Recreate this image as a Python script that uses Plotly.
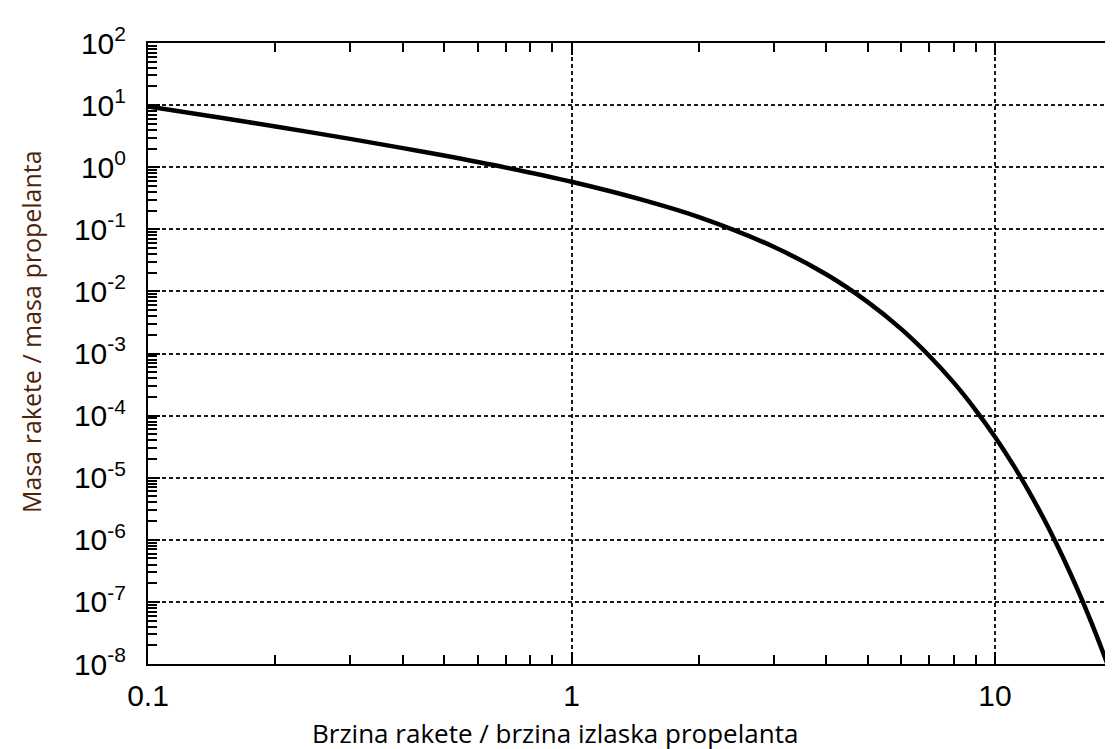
import plotly.graph_objects as go

# speed ratio (rocket speed / exhaust speed) and mass ratio
speed_ratio = [0.1, 0.15, 0.2, 0.3, 0.4, 0.5, 0.7, 1.0, 1.5, 2.0, 3.0, 4.0, 5.0, 6.0,
               7.0, 8.0, 9.0, 10.0, 11.0, 12.0, 13.0, 14.0, 15.0, 16.0, 17.0, 18.0, 18.5]
mass_ratio = [9.51, 6.18, 4.52, 2.86, 2.03, 1.54, 0.986, 0.582, 0.287, 0.157, 0.0524,
              0.0187, 0.00678, 0.00249, 9.13e-4, 3.36e-4, 1.23e-4, 4.54e-5, 1.67e-5,
              6.14e-6, 2.26e-6, 8.3e-7, 3.06e-7, 1.13e-7, 4.14e-8, 1.52e-8, 9.2e-9]

y_tickvals = [1e2, 1e1, 1e0, 1e-1, 1e-2, 1e-3, 1e-4, 1e-5, 1e-6, 1e-7, 1e-8]
y_ticktext = ["10<sup>2</sup>", "10<sup>1</sup>", "10<sup>0</sup>", "10<sup>-1</sup>",
              "10<sup>-2</sup>", "10<sup>-3</sup>", "10<sup>-4</sup>", "10<sup>-5</sup>",
              "10<sup>-6</sup>", "10<sup>-7</sup>", "10<sup>-8</sup>"]
x_tickvals = [0.1, 1, 10]
x_ticktext = ["0.1", "1", "10"]

x_title = "Brzina rakete / brzina izlaska propelanta"
y_title = "Masa rakete / masa propelanta"

fig = go.Figure()
fig.add_trace(go.Scatter(x=speed_ratio, y=mass_ratio, mode="lines",
                         line=dict(color="black", width=4.5, shape="spline"),
                         showlegend=False))

tick_font = dict(family="Liberation Sans, Arial, sans-serif", size=30, color="black")
grid_common = dict(showgrid=True, gridcolor="#1a1a1a", gridwidth=2, griddash="4px,3px",
                   showline=True, linecolor="black", linewidth=2, mirror="allticks",
                   ticks="inside", ticklen=12, tickwidth=2, tickcolor="black",
                   zeroline=False, tickfont=tick_font)

fig.update_xaxes(type="log", range=[-1, 1.288], tickvals=x_tickvals, ticktext=x_ticktext,
                 ticklabelstandoff=4,
                 minor=dict(ticks="inside", ticklen=9, tickwidth=2, tickcolor="black",
                            dtick="D1", showgrid=False),
                 **grid_common)
fig.update_yaxes(type="log", range=[-8, 2], tickvals=y_tickvals, ticktext=y_ticktext,
                 ticklabelstandoff=14,
                 minor=dict(ticks="inside", ticklen=9, tickwidth=2, tickcolor="black",
                            dtick="D1", showgrid=False),
                 **grid_common)

fig.add_annotation(text=x_title, xref="paper", yref="paper", x=0.42, y=-0.1433,
                   xanchor="center", yanchor="bottom", showarrow=False,
                   font=dict(family="Open Sans, sans-serif", size=26, color="black"))
fig.add_annotation(text=y_title, xref="paper", yref="paper", x=-0.1205, y=0.535,
                   xanchor="center", yanchor="middle", showarrow=False, textangle=-90,
                   font=dict(family="Open Sans, sans-serif", size=25, color="#4d2306"))

fig.update_layout(width=1113, height=749, margin=dict(l=140, r=2, t=35, b=93),
                  paper_bgcolor="white", plot_bgcolor="white")

fig.write_html("out.html")
